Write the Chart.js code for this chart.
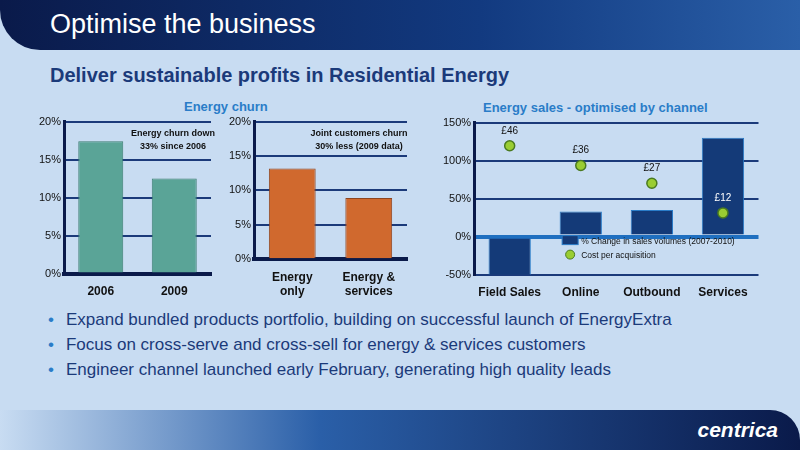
<!DOCTYPE html>
<html><head><meta charset="utf-8">
<script src="https://cdn.jsdelivr.net/npm/chart.js@4"></script>
<style>
body{margin:0;width:800px;height:450px;overflow:hidden;background:#c8dcf2;font-family:"Liberation Sans",Arial,sans-serif;position:relative}
#hdr{position:absolute;left:0;top:0;width:800px;height:50px;background:linear-gradient(90deg,#0a1a4a,#123a80 60%,#2a5fa8);border-bottom-left-radius:40px}
#hdr span{position:absolute;left:50px;top:9px;color:#fff;font-size:27px}
#sub{position:absolute;left:50px;top:64px;color:#1b3a7a;font-size:20px;font-weight:bold}
.ct{position:absolute;color:#2a7cc8;font-size:13px;font-weight:bold}
canvas{position:absolute}
#bul{position:absolute;left:48px;top:307px;color:#1b3a7a;font-size:17px;line-height:25px;margin:0;padding:0;list-style:none}
#bul li:before{content:"•";color:#2a7cc8;margin-right:12px}
#ftr{position:absolute;left:0;top:410px;width:800px;height:40px;background:linear-gradient(90deg,#c8dcf2,#2a5fa8 40%,#0a1a4a);border-top-right-radius:30px}
#ftr span{position:absolute;right:22px;top:8px;color:#fff;font-size:21px;font-weight:bold;font-style:italic}
</style></head><body>
<div id="hdr"><span>Optimise the business</span></div>
<div id="sub">Deliver sustainable profits in Residential Energy</div>
<div class="ct" style="left:184px;top:99px">Energy churn</div>
<div class="ct" style="left:483px;top:100px">Energy sales - optimised by channel</div>
<canvas id="c1" style="left:36px;top:112px;width:180px;height:190px" width="180" height="190"></canvas>
<canvas id="c2" style="left:226px;top:112px;width:186px;height:190px" width="186" height="190"></canvas>
<canvas id="c3" style="left:440px;top:113px;width:325px;height:190px" width="325" height="190"></canvas>
<ul id="bul">
<li>Expand bundled products portfolio, building on successful launch of EnergyExtra</li>
<li>Focus on cross-serve and cross-sell for energy &amp; services customers</li>
<li>Engineer channel launched early February, generating high quality leads</li>
</ul>
<div id="ftr"><span>centrica</span></div>
<script>
var churnYears = ["2006", "2009"];
var churnValues = [17.4, 12.5];
var jointLabels = [["Energy", "only"], ["Energy &", "services"]];
var jointValues = [13.2, 8.9];
var channels = ["Field Sales", "Online", "Outbound", "Services"];
var salesChange = [-57, 33, 35, 130];
var costPerAcq = [46, 36, 27, 12];

var tickFont = {family: "Liberation Sans", size: 11};
var catFont = {family: "Liberation Sans", size: 12, weight: "bold"};

function noteText(lines, w) {
  return {
    id: "note",
    afterDraw: function(c) {
      var ctx = c.ctx, a = c.chartArea;
      ctx.save();
      ctx.font = "bold 9px Liberation Sans";
      ctx.fillStyle = "#111";
      ctx.textAlign = "center";
      lines.forEach(function(l, i) { ctx.fillText(l, a.right - w, a.top + 14 + i * 13); });
      ctx.restore();
    }
  };
}

function churnChart(id, labels, data, color, border, note, w) {
  new Chart(document.getElementById(id), {
    type: "bar",
    data: {labels: labels, datasets: [{data: data, backgroundColor: color, borderColor: border, borderWidth: 1, categoryPercentage: 0.85, barPercentage: 0.72}]},
    options: {
      responsive: false, animation: false,
      layout: {padding: {top: 6, right: 5}},
      plugins: {legend: {display: false}, tooltip: {enabled: false}},
      scales: {
        x: {grid: {display: false}, border: {color: "#0a1a4a", width: 4}, ticks: {color: "#111", font: catFont}},
        y: {min: 0, max: 20, ticks: {stepSize: 5, color: "#111", font: tickFont, callback: function(v) { return v + "%"; }},
            grid: {color: "#1b3a7a", lineWidth: 2, drawTicks: false}, border: {color: "#0a1a4a", width: 3}}
      }
    },
    plugins: [noteText(note, w)]
  });
}
churnChart("c1", churnYears, churnValues, "#5aa497", "#3d7d72", ["Energy churn down", "33% since 2006"], 38);
churnChart("c2", jointLabels, jointValues, "#d0692e", "#8e4520", ["Joint customers churn", "30% less (2009 data)"], 48);

new Chart(document.getElementById("c3"), {
  data: {
    labels: channels,
    datasets: [
      {type: "line", showLine: false, label: "Cost per acquisition", data: costPerAcq, yAxisID: "y1", order: 0,
       backgroundColor: "#9acd32", borderColor: "#4a7a20", borderWidth: 1.5, pointRadius: 5},
      {type: "bar", label: "% Change in sales volumes (2007-2010)", data: salesChange, yAxisID: "y", order: 1,
       backgroundColor: "#143a78", borderColor: "#2a7cc8", borderWidth: 1, categoryPercentage: 0.85, barPercentage: 0.7}
    ]
  },
  options: {
    responsive: false, animation: false,
    layout: {padding: {top: 6, right: 5}},
    plugins: {
      legend: {display: false}, tooltip: {enabled: false}
    },
    scales: {
      x: {type: "category", offset: true, grid: {display: false}, border: {display: false}, ticks: {color: "#111", font: catFont}},
      y: {min: -50, max: 150, ticks: {stepSize: 50, color: "#111", font: tickFont, callback: function(v) { return v + "%"; }},
          grid: {color: function(c) { return c.tick.value === 0 ? "#1f6fc0" : "#1b3a7a"; }, lineWidth: function(c) { return c.tick.value === 0 ? 4 : 2; }, drawTicks: false},
          border: {color: "#0a1a4a", width: 3}},
      y1: {display: false, min: -50 / 2.6, max: 150 / 2.6}
    }
  },
  plugins: [{
    id: "extras",
    afterDraw: function(c) {
      var ctx = c.ctx, meta = c.getDatasetMeta(0), a = c.chartArea;
      ctx.save();
      ctx.font = "10px Liberation Sans";
      ctx.textAlign = "center";
      meta.data.forEach(function(p, i) {
        ctx.fillStyle = i === 3 ? "#fff" : "#111";
        ctx.fillText("£" + costPerAcq[i], p.x, p.y - 12);
      });
      var lx = a.left + 88, ly = a.top + 113;
      ctx.fillStyle = "#143a78"; ctx.fillRect(lx, ly, 16, 9);
      ctx.strokeStyle = "#2a7cc8"; ctx.strokeRect(lx, ly, 16, 9);
      ctx.beginPath(); ctx.arc(lx + 8, ly + 19, 4.5, 0, Math.PI * 2);
      ctx.fillStyle = "#9acd32"; ctx.fill(); ctx.strokeStyle = "#4a7a20"; ctx.stroke();
      ctx.fillStyle = "#111"; ctx.textAlign = "left"; ctx.font = "8.5px Liberation Sans";
      ctx.fillText(c.data.datasets[1].label, lx + 19, ly + 8);
      ctx.fillText(c.data.datasets[0].label, lx + 19, ly + 22);
      ctx.restore();
    }
  }]
});
</script>
</body></html>
